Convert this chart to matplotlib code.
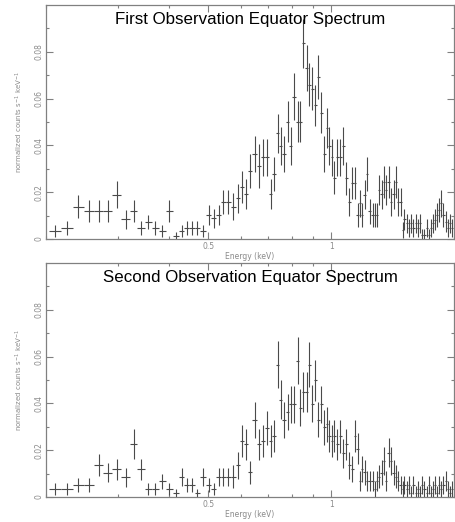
import numpy as np
import matplotlib
matplotlib.use("Agg")
import matplotlib.pyplot as plt
from matplotlib.ticker import FixedLocator, NullFormatter, FixedFormatter

# bin centres (keV), shared by both observations
energy = [0.210, 0.225, 0.240, 0.255, 0.270, 0.2835, 0.298, 0.3135, 0.328, 0.342,
          0.3565, 0.371, 0.3856, 0.401, 0.416, 0.430, 0.443, 0.456, 0.469, 0.485,
          0.501, 0.516, 0.530, 0.544, 0.559,
          0.575, 0.591, 0.605, 0.618, 0.632, 0.650, 0.665, 0.680, 0.695, 0.711,
          0.723, 0.739, 0.752, 0.765, 0.782, 0.795, 0.809, 0.827, 0.841, 0.855,
          0.870, 0.884, 0.899, 0.914, 0.930, 0.946, 0.962, 0.978, 0.989, 1.006,
          1.017, 1.034, 1.052, 1.069, 1.088, 1.106, 1.125, 1.144, 1.163, 1.176,
          1.189, 1.209, 1.223, 1.244, 1.265, 1.279, 1.293, 1.308, 1.330, 1.345,
          1.360, 1.383, 1.399, 1.422, 1.438, 1.454, 1.479, 1.496, 1.512, 1.538,
          1.555, 1.573, 1.590, 1.617, 1.636, 1.654, 1.672, 1.691, 1.720, 1.739,
          1.759, 1.778, 1.798, 1.819, 1.839, 1.860, 1.881, 1.913, 1.934, 1.956,
          1.978]

# first observation: normalized counts s^-1 keV^-1 and 1-sigma errors
counts_1 = [0.0034, 0.0048, 0.0138, 0.012, 0.012, 0.012, 0.019, 0.0084, 0.012, 0.0048,
            0.0074, 0.0048, 0.0034, 0.012, 0.0015, 0.0034, 0.0048, 0.0048, 0.0048, 0.0034,
            0.0102, 0.0088, 0.0102, 0.0157, 0.0157,
            0.0138, 0.0174, 0.0223, 0.0192, 0.0292, 0.0363, 0.0313, 0.0349, 0.0349, 0.0192,
            0.0278, 0.0451, 0.0398, 0.0363, 0.0501, 0.0398, 0.0608, 0.0501, 0.0501, 0.0836,
            0.0729, 0.066, 0.0643, 0.0572, 0.0693, 0.0539, 0.0363, 0.0473, 0.0398, 0.0349,
            0.0262, 0.0349, 0.0349, 0.0398, 0.026, 0.0159, 0.024, 0.024, 0.0102, 0.0152,
            0.0102, 0.019, 0.0278, 0.0118, 0.0102, 0.0102, 0.0102, 0.0209, 0.0192, 0.0245,
            0.0209, 0.0245, 0.0159, 0.0192, 0.0245, 0.0159, 0.0159, 0.0038, 0.0084, 0.0067,
            0.0048, 0.0067, 0.0048, 0.0067, 0.0048, 0.0067, 0.0017, 0.0017, 0.0048, 0.0017,
            0.0048, 0.0067, 0.0082, 0.0102, 0.0124, 0.0152, 0.0102, 0.0074, 0.0048, 0.0067,
            0.0048]
errors_1 = [0.0025, 0.003, 0.005, 0.0046, 0.0046, 0.0046, 0.0057, 0.004, 0.0046, 0.003,
            0.003, 0.003, 0.0025, 0.0046, 0.0015, 0.0025, 0.003, 0.003, 0.003, 0.0025,
            0.0043, 0.004, 0.0043, 0.0052, 0.0052,
            0.0058, 0.0062, 0.0068, 0.0064, 0.0072, 0.0078, 0.0095, 0.0078, 0.0078, 0.0065,
            0.0072, 0.0085, 0.008, 0.0078, 0.0088, 0.008, 0.010, 0.0088, 0.0088, 0.0105,
            0.0098, 0.0093, 0.0092, 0.0088, 0.0095, 0.0088, 0.0078, 0.0085, 0.008, 0.0078,
            0.007, 0.0078, 0.0078, 0.008, 0.007, 0.006, 0.0068, 0.0068, 0.005, 0.0058,
            0.005, 0.0062, 0.0072, 0.0052, 0.005, 0.005, 0.005, 0.0065, 0.0062, 0.0068,
            0.0065, 0.0068, 0.006, 0.0062, 0.0068, 0.006, 0.006, 0.0035, 0.0045, 0.0042,
            0.0038, 0.0042, 0.0038, 0.0042, 0.0038, 0.0042, 0.0025, 0.0025, 0.0038, 0.0025,
            0.0038, 0.0042, 0.0045, 0.005, 0.0052, 0.0058, 0.005, 0.0044, 0.0038, 0.0042,
            0.0038]

# second observation
counts_2 = [0.0033, 0.0033, 0.005, 0.005, 0.0137, 0.0104, 0.0118, 0.0084, 0.0226, 0.0118,
            0.0033, 0.0033, 0.0067, 0.0033, 0.0017, 0.0085, 0.005, 0.005, 0.0017, 0.0085,
            0.005, 0.0033, 0.0085, 0.0085, 0.0085,
            0.0087, 0.0136, 0.024, 0.0226, 0.0105, 0.0328, 0.0226, 0.024, 0.0295, 0.024,
            0.0261, 0.0566, 0.0416, 0.0328, 0.0363, 0.0396, 0.0396, 0.0583, 0.0382, 0.0449,
            0.0449, 0.0566, 0.0399, 0.0498, 0.0331, 0.0396, 0.0297, 0.0311, 0.0261, 0.024,
            0.0261, 0.0226, 0.026, 0.0186, 0.0226, 0.0136, 0.0119, 0.0261, 0.0207, 0.0068,
            0.0119, 0.0105, 0.0068, 0.0068, 0.0068, 0.0033, 0.0068, 0.0087, 0.0104, 0.0155,
            0.0068, 0.019, 0.0155, 0.0104, 0.0087, 0.0068, 0.0051, 0.0033, 0.0051, 0.0033,
            0.0051, 0.0018, 0.0051, 0.0018, 0.0033, 0.0018, 0.0051, 0.0033, 0.0018, 0.0051,
            0.0018, 0.0033, 0.0051, 0.0018, 0.0051, 0.0033, 0.0051, 0.0068, 0.0033, 0.0018,
            0.0033]
errors_2 = [0.0025, 0.0025, 0.003, 0.003, 0.0048, 0.0042, 0.0045, 0.004, 0.0063, 0.0045,
            0.0025, 0.0025, 0.0032, 0.0025, 0.0017, 0.0038, 0.003, 0.003, 0.0017, 0.0038,
            0.003, 0.0025, 0.0038, 0.0038, 0.0038,
            0.0048, 0.0058, 0.0068, 0.0066, 0.005, 0.0076, 0.0066, 0.0068, 0.0074, 0.0068,
            0.007, 0.0099, 0.0082, 0.0076, 0.0078, 0.008, 0.008, 0.010, 0.008, 0.0085,
            0.0085, 0.0095, 0.008, 0.0088, 0.0076, 0.008, 0.0074, 0.0075, 0.007, 0.0068,
            0.007, 0.0066, 0.007, 0.0062, 0.0066, 0.0058, 0.0055, 0.007, 0.0065, 0.0044,
            0.0055, 0.0052, 0.0044, 0.0044, 0.0044, 0.0035, 0.0044, 0.0048, 0.0052, 0.006,
            0.0044, 0.0062, 0.006, 0.0052, 0.0048, 0.0044, 0.004, 0.0035, 0.004, 0.0035,
            0.004, 0.0028, 0.004, 0.0028, 0.0035, 0.0028, 0.004, 0.0035, 0.0028, 0.004,
            0.0028, 0.0035, 0.004, 0.0028, 0.004, 0.0035, 0.004, 0.0044, 0.0035, 0.0028,
            0.0035]

titles = ["First Observation Equator Spectrum", "Second Observation Equator Spectrum"]

e = np.array(energy)
# bin edges halfway (in log) between neighbouring centres
mid = np.sqrt(e[:-1] * e[1:])
edges = np.concatenate([[e[0] ** 2 / mid[0]], mid, [e[-1] ** 2 / mid[-1]]])
xlo = e - edges[:-1]
xhi = edges[1:] - e

fig = plt.figure(figsize=(4.55, 5.22), dpi=100)
axis_grey = "#808080"
label_grey = "#8a8a8a"

boxes = [[0.1011, 0.5421, 0.8967, 0.4483], [0.1011, 0.0479, 0.8967, 0.4483]]
for box, title, counts, errors in zip(boxes, titles, [counts_1, counts_2], [errors_1, errors_2]):
    ax = fig.add_axes(box)
    ax.errorbar(e, counts, xerr=[xlo, xhi], yerr=errors, fmt="none",
                ecolor="#4a4a4a", elinewidth=0.8, capsize=0)
    ax.set_xscale("log")
    ax.set_xlim(0.2, 2.0)
    ax.set_ylim(0, 0.1)

    ax.xaxis.set_major_locator(FixedLocator([0.5, 1.0]))
    ax.xaxis.set_major_formatter(FixedFormatter(["0.5", "1"]))
    ax.xaxis.set_minor_locator(FixedLocator([0.2, 0.3, 0.4, 0.6, 0.7, 0.8, 0.9, 2.0]))
    ax.xaxis.set_minor_formatter(NullFormatter())
    ax.yaxis.set_major_locator(FixedLocator([0, 0.02, 0.04, 0.06, 0.08]))
    ax.yaxis.set_major_formatter(FixedFormatter(["0", "0.02", "0.04", "0.06", "0.08"]))
    ax.yaxis.set_minor_locator(FixedLocator([0.01, 0.03, 0.05, 0.07, 0.09]))

    ax.tick_params(which="both", direction="in", top=True, right=True,
                   color=axis_grey, labelcolor=label_grey, labelsize=5.5, width=0.8)
    ax.tick_params(which="major", length=5)
    ax.tick_params(which="minor", length=2.5)
    ax.tick_params(axis="y", labelrotation=90, pad=2)
    for lbl in ax.get_yticklabels():
        lbl.set_verticalalignment("center")
    ax.tick_params(axis="x", pad=2)
    for s in ax.spines.values():
        s.set_color(axis_grey)
        s.set_linewidth(0.9)

    ax.set_xlabel("Energy (keV)", fontsize=5.5, color=label_grey, labelpad=1)
    ax.set_ylabel("normalized counts s$^{-1}$ keV$^{-1}$", fontsize=5,
                  color=label_grey, labelpad=7)
    ax.text(0.5, 0.936, title, transform=ax.transAxes, ha="center", va="center",
            fontsize=12.2, family="Liberation Sans", color="black")

fig.savefig("out.png", dpi=100)
